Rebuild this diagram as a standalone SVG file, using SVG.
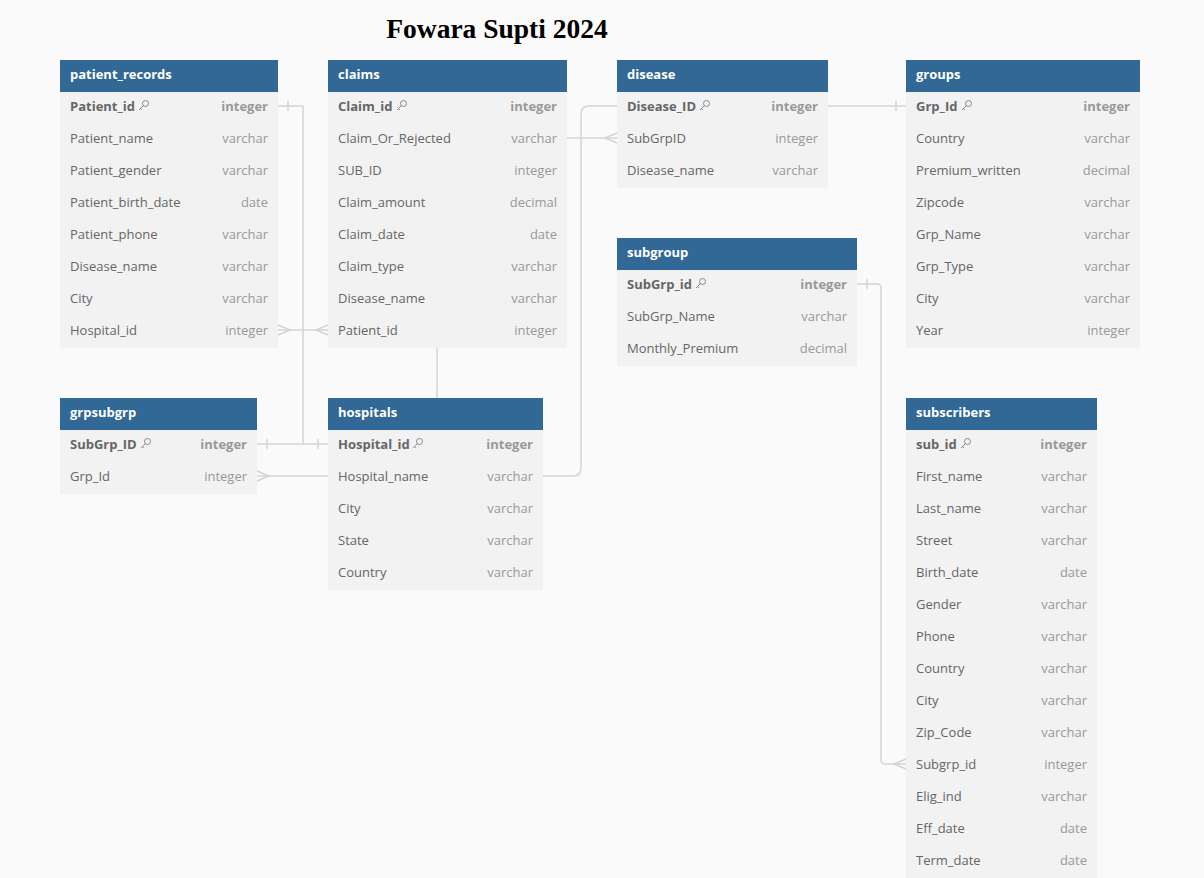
<svg xmlns="http://www.w3.org/2000/svg" xmlns:xlink="http://www.w3.org/1999/xlink" width="1204" height="878" viewBox="0 0 1204 878">
<style>
.bg{fill:#fafafa}
.hd{fill:#316896}
.bd{fill:#f2f2f2}
.ht{font-family:"Open Sans","Liberation Sans",sans-serif;font-size:13px;font-weight:bold;fill:#ffffff}
.fn{font-family:"Open Sans","Liberation Sans",sans-serif;font-size:13px;fill:#666666}
.ft{font-family:"Open Sans","Liberation Sans",sans-serif;font-size:13px;fill:#999999;text-anchor:end}
.pk{font-weight:bold}
.cn{fill:none;stroke:#d4d4d4;stroke-width:1.5}
.title{font-family:"Liberation Serif",serif;font-size:27.5px;font-weight:bold;fill:#000}
</style>
<defs>
<g id="key" fill="none" stroke="#888" stroke-width="1">
<circle cx="7.5" cy="3.5" r="3"/>
<path d="M5.4 5.6 L1 10 M2.5 8.5 L4 10"/>
</g>
</defs>
<rect class="bg" x="0" y="0" width="1204" height="878"/>
<text class="title" x="497" y="38" text-anchor="middle">Fowara Supti 2024</text>

<g id="connectors">
<path class="cn" d="M278 106 H303 V444 H328"/>
<path class="cn" d="M288 101 V111"/>
<path class="cn" d="M318 439 V449"/>
<path class="cn" d="M257 444 H303"/>
<path class="cn" d="M267 439 V449"/>
<path class="cn" d="M278 330 H328"/>
<path class="cn" d="M278 325 L290 330 L278 335"/>
<path class="cn" d="M328 325 L316 330 L328 335"/>
<path class="cn" d="M257 476 H328"/>
<path class="cn" d="M257 471 L269 476 L257 481"/>
<path class="cn" d="M543 476 H573 Q581 476 581 468 V114 Q581 106 589 106 H617"/>
<path class="cn" d="M567 138 H617"/>
<path class="cn" d="M617 133 L605 138 L617 143"/>
<path class="cn" d="M828 106 H906"/>
<path class="cn" d="M896 101 V111"/>
<path class="cn" d="M857 284 H877 Q881 284 881 288 V760 Q881 764 885 764 H906"/>
<path class="cn" d="M867 279 V289"/>
<path class="cn" d="M906 759 L894 764 L906 769"/>
<path class="cn" d="M437 348 V398"/>
</g>

<g id="patient_records">
<rect class="bd" x="60" y="92" width="218" height="256"/>
<rect class="hd" x="60" y="60" width="218" height="32"/>
<text class="ht" x="70" y="79">patient_records</text>
<text class="fn pk" x="70" y="111">Patient_id</text><use xlink:href="#key" x="138" y="100"/><text class="ft pk" x="268" y="111">integer</text>
<text class="fn" x="70" y="143">Patient_name</text><text class="ft" x="268" y="143">varchar</text>
<text class="fn" x="70" y="175">Patient_gender</text><text class="ft" x="268" y="175">varchar</text>
<text class="fn" x="70" y="207">Patient_birth_date</text><text class="ft" x="268" y="207">date</text>
<text class="fn" x="70" y="239">Patient_phone</text><text class="ft" x="268" y="239">varchar</text>
<text class="fn" x="70" y="271">Disease_name</text><text class="ft" x="268" y="271">varchar</text>
<text class="fn" x="70" y="303">City</text><text class="ft" x="268" y="303">varchar</text>
<text class="fn" x="70" y="335">Hospital_id</text><text class="ft" x="268" y="335">integer</text>
</g>

<g id="claims">
<rect class="bd" x="328" y="92" width="239" height="256"/>
<rect class="hd" x="328" y="60" width="239" height="32"/>
<text class="ht" x="338" y="79">claims</text>
<text class="fn pk" x="338" y="111">Claim_id</text><use xlink:href="#key" x="396" y="100"/><text class="ft pk" x="557" y="111">integer</text>
<text class="fn" x="338" y="143">Claim_Or_Rejected</text><text class="ft" x="557" y="143">varchar</text>
<text class="fn" x="338" y="175">SUB_ID</text><text class="ft" x="557" y="175">integer</text>
<text class="fn" x="338" y="207">Claim_amount</text><text class="ft" x="557" y="207">decimal</text>
<text class="fn" x="338" y="239">Claim_date</text><text class="ft" x="557" y="239">date</text>
<text class="fn" x="338" y="271">Claim_type</text><text class="ft" x="557" y="271">varchar</text>
<text class="fn" x="338" y="303">Disease_name</text><text class="ft" x="557" y="303">varchar</text>
<text class="fn" x="338" y="335">Patient_id</text><text class="ft" x="557" y="335">integer</text>
</g>

<g id="disease">
<rect class="bd" x="617" y="92" width="211" height="96"/>
<rect class="hd" x="617" y="60" width="211" height="32"/>
<text class="ht" x="627" y="79">disease</text>
<text class="fn pk" x="627" y="111">Disease_ID</text><use xlink:href="#key" x="699" y="100"/><text class="ft pk" x="818" y="111">integer</text>
<text class="fn" x="627" y="143">SubGrpID</text><text class="ft" x="818" y="143">integer</text>
<text class="fn" x="627" y="175">Disease_name</text><text class="ft" x="818" y="175">varchar</text>
</g>

<g id="groups">
<rect class="bd" x="906" y="92" width="234" height="256"/>
<rect class="hd" x="906" y="60" width="234" height="32"/>
<text class="ht" x="916" y="79">groups</text>
<text class="fn pk" x="916" y="111">Grp_Id</text><use xlink:href="#key" x="961" y="100"/><text class="ft pk" x="1130" y="111">integer</text>
<text class="fn" x="916" y="143">Country</text><text class="ft" x="1130" y="143">varchar</text>
<text class="fn" x="916" y="175">Premium_written</text><text class="ft" x="1130" y="175">decimal</text>
<text class="fn" x="916" y="207">Zipcode</text><text class="ft" x="1130" y="207">varchar</text>
<text class="fn" x="916" y="239">Grp_Name</text><text class="ft" x="1130" y="239">varchar</text>
<text class="fn" x="916" y="271">Grp_Type</text><text class="ft" x="1130" y="271">varchar</text>
<text class="fn" x="916" y="303">City</text><text class="ft" x="1130" y="303">varchar</text>
<text class="fn" x="916" y="335">Year</text><text class="ft" x="1130" y="335">integer</text>
</g>

<g id="subgroup">
<rect class="bd" x="617" y="270" width="240" height="96"/>
<rect class="hd" x="617" y="238" width="240" height="32"/>
<text class="ht" x="627" y="257">subgroup</text>
<text class="fn pk" x="627" y="289">SubGrp_id</text><use xlink:href="#key" x="695" y="278"/><text class="ft pk" x="847" y="289">integer</text>
<text class="fn" x="627" y="321">SubGrp_Name</text><text class="ft" x="847" y="321">varchar</text>
<text class="fn" x="627" y="353">Monthly_Premium</text><text class="ft" x="847" y="353">decimal</text>
</g>

<g id="grpsubgrp">
<rect class="bd" x="60" y="430" width="197" height="64"/>
<rect class="hd" x="60" y="398" width="197" height="32"/>
<text class="ht" x="70" y="417">grpsubgrp</text>
<text class="fn pk" x="70" y="449">SubGrp_ID</text><use xlink:href="#key" x="140" y="438"/><text class="ft pk" x="247" y="449">integer</text>
<text class="fn" x="70" y="481">Grp_Id</text><text class="ft" x="247" y="481">integer</text>
</g>

<g id="hospitals">
<rect class="bd" x="328" y="430" width="215" height="160"/>
<rect class="hd" x="328" y="398" width="215" height="32"/>
<text class="ht" x="338" y="417">hospitals</text>
<text class="fn pk" x="338" y="449">Hospital_id</text><use xlink:href="#key" x="412" y="438"/><text class="ft pk" x="533" y="449">integer</text>
<text class="fn" x="338" y="481">Hospital_name</text><text class="ft" x="533" y="481">varchar</text>
<text class="fn" x="338" y="513">City</text><text class="ft" x="533" y="513">varchar</text>
<text class="fn" x="338" y="545">State</text><text class="ft" x="533" y="545">varchar</text>
<text class="fn" x="338" y="577">Country</text><text class="ft" x="533" y="577">varchar</text>
</g>

<g id="subscribers">
<rect class="bd" x="906" y="430" width="191" height="448"/>
<rect class="hd" x="906" y="398" width="191" height="32"/>
<text class="ht" x="916" y="417">subscribers</text>
<text class="fn pk" x="916" y="449">sub_id</text><use xlink:href="#key" x="960" y="438"/><text class="ft pk" x="1087" y="449">integer</text>
<text class="fn" x="916" y="481">First_name</text><text class="ft" x="1087" y="481">varchar</text>
<text class="fn" x="916" y="513">Last_name</text><text class="ft" x="1087" y="513">varchar</text>
<text class="fn" x="916" y="545">Street</text><text class="ft" x="1087" y="545">varchar</text>
<text class="fn" x="916" y="577">Birth_date</text><text class="ft" x="1087" y="577">date</text>
<text class="fn" x="916" y="609">Gender</text><text class="ft" x="1087" y="609">varchar</text>
<text class="fn" x="916" y="641">Phone</text><text class="ft" x="1087" y="641">varchar</text>
<text class="fn" x="916" y="673">Country</text><text class="ft" x="1087" y="673">varchar</text>
<text class="fn" x="916" y="705">City</text><text class="ft" x="1087" y="705">varchar</text>
<text class="fn" x="916" y="737">Zip_Code</text><text class="ft" x="1087" y="737">varchar</text>
<text class="fn" x="916" y="769">Subgrp_id</text><text class="ft" x="1087" y="769">integer</text>
<text class="fn" x="916" y="801">Elig_ind</text><text class="ft" x="1087" y="801">varchar</text>
<text class="fn" x="916" y="833">Eff_date</text><text class="ft" x="1087" y="833">date</text>
<text class="fn" x="916" y="865">Term_date</text><text class="ft" x="1087" y="865">date</text>
</g>
</svg>
